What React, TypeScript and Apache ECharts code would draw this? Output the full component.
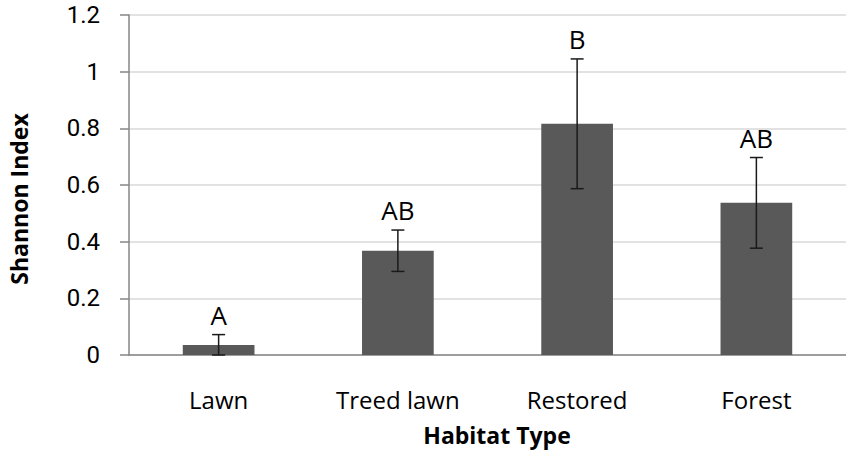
import React, { useEffect, useRef } from "react";
import * as echarts from "echarts";

const categories = ["Lawn", "Treed lawn", "Restored", "Forest"];
const means = [0.035, 0.368, 0.816, 0.537];
const errors = [0.037, 0.073, 0.229, 0.16];
const letters = ["A", "AB", "B", "AB"];
const yTicks = { min: 0, max: 1.2, interval: 0.2 };
const xTitle = "Habitat Type";
const yTitle = "Shannon Index";

const FONT = "'Open Sans', sans-serif";
const TICK_FONT = "Roboto, 'Open Sans', sans-serif";

export default function App() {
  const ref = useRef<HTMLDivElement>(null);
  useEffect(() => {
    if (!ref.current) return;
    const chart = echarts.init(ref.current, undefined, { renderer: "svg" });
    const errData = categories.map((_, i) => [i, Math.max(0, means[i] - errors[i]), means[i] + errors[i]]);
    chart.setOption({
      animation: false,
      backgroundColor: "#ffffff",
      grid: { left: 129, top: 15, right: -4, bottom: 96, containLabel: false },
      graphic: [
        {
          type: "text",
          x: 497,
          y: 435,
          style: {
            text: xTitle,
            align: "center",
            verticalAlign: "middle",
            fontFamily: FONT,
            fontSize: 23,
            fontWeight: "bold",
            fill: "#000",
          },
        },
        {
          type: "text",
          x: 19,
          y: 199,
          rotation: Math.PI / 2,
          style: {
            text: yTitle,
            align: "center",
            verticalAlign: "middle",
            fontFamily: FONT,
            fontSize: 23,
            fontWeight: "bold",
            fill: "#000",
          },
        },
      ],
      xAxis: {
        type: "category",
        data: categories,
        axisLine: { show: true, lineStyle: { color: "#868686", width: 1.5 } },
        axisTick: { show: false },
        axisLabel: { fontFamily: FONT, fontSize: 24, color: "#000", margin: 32 },
        splitLine: { show: false },
      },
      yAxis: {
        type: "value",
        min: yTicks.min,
        max: yTicks.max,
        interval: yTicks.interval,
        axisLine: { show: true, lineStyle: { color: "#868686", width: 1.5 } },
        axisTick: { show: true, length: 9, lineStyle: { color: "#868686", width: 1.5 } },
        axisLabel: { fontFamily: TICK_FONT, fontSize: 24, lineHeight: 24, color: "#000", margin: 29 },
        splitLine: { show: true, lineStyle: { color: "#d9d9d9", width: 1.5 } },
      },
      series: [
        {
          type: "bar",
          data: means,
          barWidth: "40%",
          itemStyle: { color: "#595959" },
        },
        {
          type: "custom",
          data: errData,
          z: 10,
          renderItem: (params: any, api: any) => {
            const i = api.value(0);
            const low = api.coord([i, api.value(1)]);
            const high = api.coord([i, api.value(2)]);
            const half = 6.5;
            const style = { stroke: "#1a1a1a", lineWidth: 1.5 };
            return {
              type: "group",
              children: [
                { type: "line", shape: { x1: high[0], y1: high[1], x2: low[0], y2: low[1] }, style },
                { type: "line", shape: { x1: high[0] - half, y1: high[1], x2: high[0] + half, y2: high[1] }, style },
                { type: "line", shape: { x1: low[0] - half, y1: low[1], x2: low[0] + half, y2: low[1] }, style },
                {
                  type: "text",
                  style: {
                    text: letters[params.dataIndex],
                    x: high[0],
                    y: high[1] - 7,
                    align: "center",
                    verticalAlign: "bottom",
                    fontFamily: FONT,
                    fontSize: 26,
                    fill: "#000",
                  },
                },
              ],
            };
          },
        },
      ],
    });
    return () => chart.dispose();
  }, []);
  return <div ref={ref} style={{ width: 846, height: 451, position: "absolute", left: 0, top: 0 }} />;
}
